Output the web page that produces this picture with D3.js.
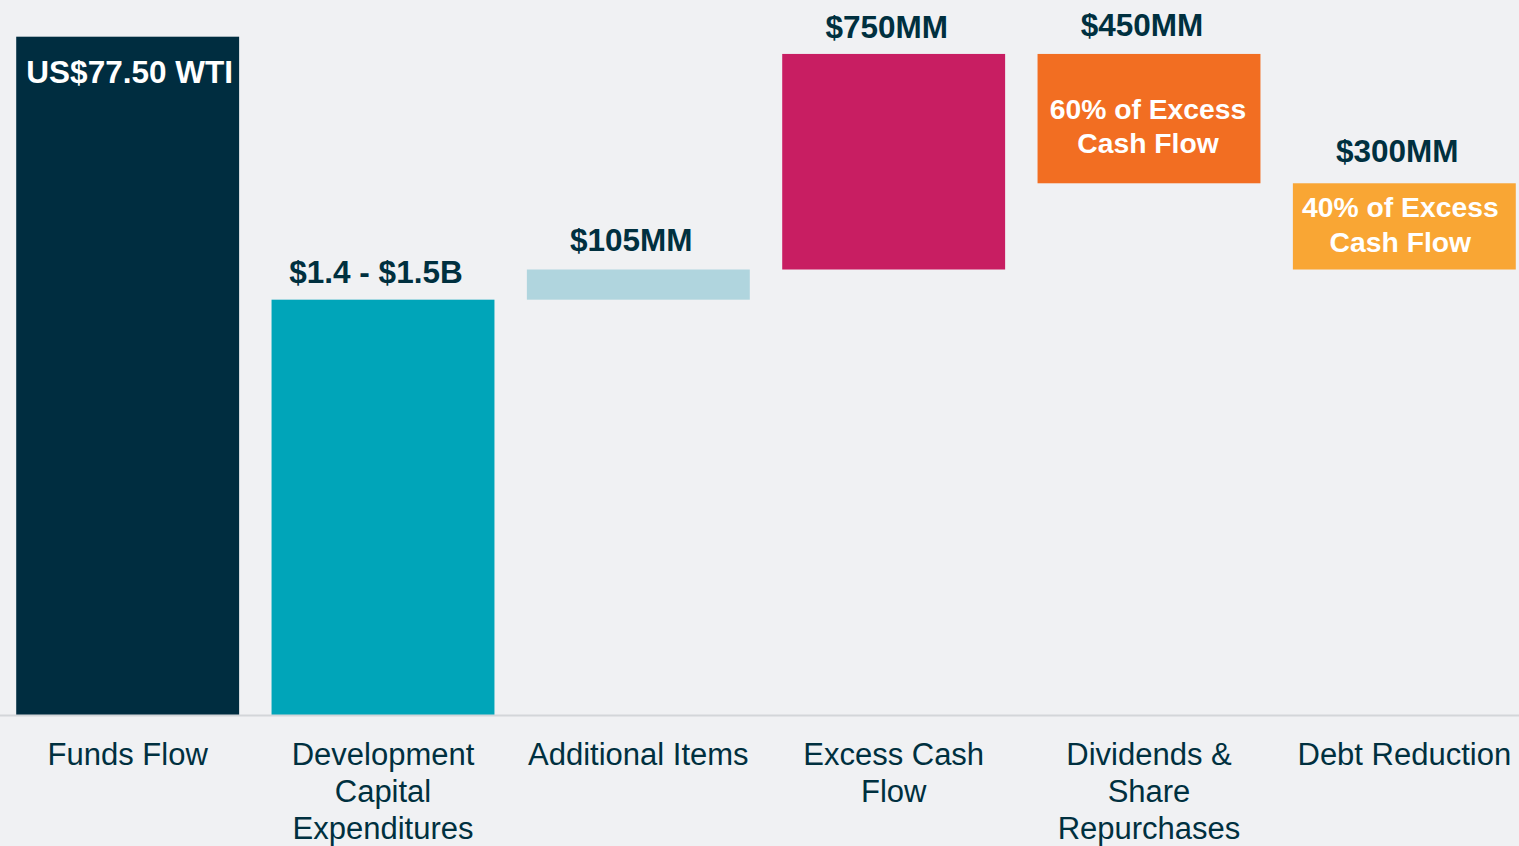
<!DOCTYPE html>
<html>
<head>
<meta charset="utf-8">
<script src="https://cdn.jsdelivr.net/npm/d3@7"></script>
<style>
  html, body { margin: 0; padding: 0; background: #f0f1f3; }
  svg { display: block; font-family: "Liberation Sans", Arial, sans-serif; }
</style>
</head>
<body>
<svg id="chart" width="1519" height="846"></svg>
<script>
// Capital allocation waterfall (US$ millions)
const categories = [
  "Funds Flow",
  "Development Capital Expenditures",
  "Additional Items",
  "Excess Cash Flow",
  "Dividends & Share Repurchases",
  "Debt Reduction"
];
// wrapped lines for the category axis
const categoryLines = [
  ["Funds Flow"],
  ["Development", "Capital", "Expenditures"],
  ["Additional Items"],
  ["Excess Cash", "Flow"],
  ["Dividends &", "Share", "Repurchases"],
  ["Debt Reduction"]
];
// each bar spans [start, end]
const barStart = [0, 0, 1445, 1550, 1850, 1550];
const barEnd   = [2360, 1445, 1550, 2300, 2300, 1850];
const valueLabels = ["", "$1.4 - $1.5B", "$105MM", "$750MM", "$450MM", "$300MM"];
const innerLabels = [
  ["US$77.50 WTI"],
  [],
  [],
  [],
  ["60% of Excess", "Cash Flow"],
  ["40% of Excess", "Cash Flow"]
];
const barColors = ["#002d40", "#00a5b9", "#b0d5de", "#c81e62", "#f26e22", "#f9a634"];

// per-bar typographic nudges (px)
const valueLift  = [17, 17, 19, 16, 18, 21];
const innerShift = [0, 0, 0, 0, 0, -9];
const innerDx    = [2, 0, 0, 0, -1, -4];

const svg = d3.select("#chart");
const W = 1519, H = 846;
const baseY = 715, topY = 36.7;
const textColor = "#00303f";

const x = d3.scaleBand()
  .domain(categories)
  .range([0, 1532])
  .paddingInner(0.127)
  .paddingOuter(0.0635);

const y = d3.scaleLinear()
  .domain([0, 2360])
  .range([baseY, topY]);

const rows = categories.map((c, i) => ({
  i, cat: c, start: barStart[i], end: barEnd[i], color: barColors[i],
  value: valueLabels[i], inner: innerLabels[i], lines: categoryLines[i]
}));

// bars
svg.append("g").selectAll("rect")
  .data(rows)
  .join("rect")
  .attr("x", d => x(d.cat))
  .attr("width", x.bandwidth())
  .attr("y", d => y(Math.max(d.start, d.end)))
  .attr("height", d => Math.abs(y(d.start) - y(d.end)))
  .attr("fill", d => d.color);

// baseline axis
const axis = d3.axisBottom(x).tickSize(0).tickPadding(0);
const gx = svg.append("g")
  .attr("transform", `translate(0,${baseY})`)
  .call(axis);
gx.select(".domain").remove();
gx.append("line")
  .attr("x1", 0).attr("x2", W)
  .attr("y1", 0.5).attr("y2", 0.5)
  .attr("stroke", "#d3d6d9")
  .attr("stroke-width", 2);
gx.selectAll(".tick text").each(function(d, i) {
  const t = d3.select(this);
  t.text(null)
    .attr("y", 0)
    .attr("dy", null)
    .attr("fill", textColor)
    .attr("font-size", "31px")
    .attr("font-family", "'Liberation Sans', Arial, sans-serif");
  categoryLines[i].forEach((line, j) => {
    t.append("tspan")
      .attr("x", 0)
      .attr("y", 50 + j * 37)
      .text(line);
  });
});

// value labels above bars
svg.append("g").selectAll("text")
  .data(rows.filter(d => d.value))
  .join("text")
  .attr("x", d => x(d.cat) + x.bandwidth() / 2 - 7)
  .attr("y", d => y(Math.max(d.start, d.end)) - valueLift[d.i])
  .attr("text-anchor", "middle")
  .attr("font-weight", "bold")
  .attr("font-size", "31.5px")
  .attr("fill", textColor)
  .text(d => d.value);

// labels inside bars
const inner = svg.append("g");
rows.forEach(d => {
  if (!d.inner.length) return;
  const cx = x(d.cat) + x.bandwidth() / 2 + innerDx[d.i];
  const isFirst = d.i === 0;
  const top = y(Math.max(d.start, d.end));
  const mid = (y(d.start) + y(d.end)) / 2;
  const t = inner.append("text")
    .attr("text-anchor", "middle")
    .attr("font-weight", "bold")
    .attr("fill", "#ffffff")
    .attr("font-size", isFirst ? "31.5px" : "28.3px");
  d.inner.forEach((line, j) => {
    t.append("tspan")
      .attr("x", cx)
      .attr("y", isFirst ? top + 46.5 : mid + innerShift[d.i] + j * 34.5)
      .text(line);
  });
});
</script>
</body>
</html>
